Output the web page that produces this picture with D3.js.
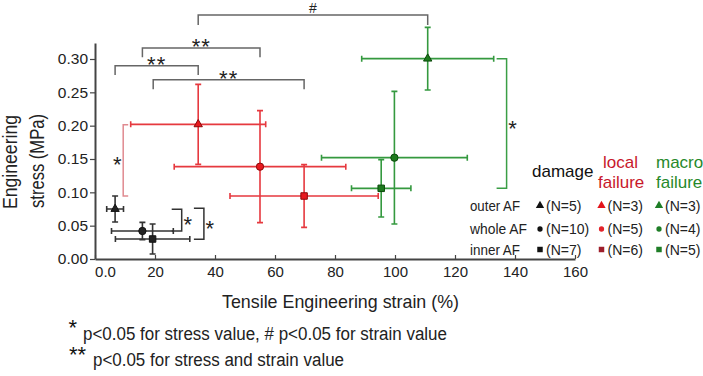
<!DOCTYPE html>
<html>
<head>
<meta charset="utf-8">
<script src="https://cdnjs.cloudflare.com/ajax/libs/d3/7.8.5/d3.min.js"></script>
<style>
  body { margin: 0; background: #fff; }
  text { font-family: "Liberation Sans", Arial, sans-serif; }
</style>
</head>
<body>
<div id="chart"></div>
<script>
// ---- data ----
var regions = ["outer AF", "whole AF", "inner AF"];
var shapes = [d3.symbolTriangle, d3.symbolCircle, d3.symbolSquare];

var damageStrain = [6.7, 15.8, 19.2];
var damageStrainSD = [2.8, 10.3, 12.4];
var damageStress = [0.075, 0.042, 0.030];
var damageStressSD = [0.0195, 0.013, 0.0225];
var damageN = [5, 10, 7];

var localStrain = [34.4, 55.0, 69.7];
var localStrainSD = [22.5, 28.6, 24.7];
var localStress = [0.202, 0.1385, 0.0945];
var localStressSD = [0.060, 0.084, 0.047];
var localN = [3, 5, 6];

var macroStrain = [110.9, 99.8, 95.4];
var macroStrainSD = [22.0, 24.3, 9.9];
var macroStress = [0.3005, 0.152, 0.106];
var macroStressSD = [0.047, 0.0995, 0.043];
var macroN = [3, 4, 5];

var xTicks = [0, 20, 40, 60, 80, 100, 120, 140, 160];
var yTicks = [0, 0.05, 0.10, 0.15, 0.20, 0.25, 0.30];

// significance brackets (data units): [x1, x2, top, legEnd, label]
var hBrackets = [
  [34.4, 110.9, 0.366, 0.351, "#"],
  [15.8, 55.0, 0.3165, 0.3025, "**"],
  [6.7, 34.4, 0.290, 0.276, "**"],
  [19.4, 69.7, 0.269, 0.2545, "**"]
];
// [x, y1, y2, tick direction, color]
var vBrackets = [
  [9.4, 0.2015, 0.0945, 1, "#e08a90"],
  [28.9, 0.0746, 0.042, -1, "#333"],
  [36.3, 0.076, 0.0296, -1, "#333"],
  [137.2, 0.3005, 0.106, -1, "#3a9e46"]
];

var series = [
  { name: "damage", strain: damageStrain, strainSD: damageStrainSD, stress: damageStress, stressSD: damageStressSD, n: damageN,
    bar: "#333", fill: "#222", stroke: "#111", legend: ["#111", "#111", "#111"] },
  { name: "local", strain: localStrain, strainSD: localStrainSD, stress: localStress, stressSD: localStressSD, n: localN,
    bar: "#e6393f", fill: "#e8191f", stroke: "#8b0a0a", legend: ["#e3141b", "#e3242b", "#9e1f2b"] },
  { name: "macro", strain: macroStrain, strainSD: macroStrainSD, stress: macroStress, stressSD: macroStressSD, n: macroN,
    bar: "#34993f", fill: "#1d7a1d", stroke: "#0b4a0b", legend: ["#1e7d26", "#1e7d26", "#1e7d26"] }
];

var margin = { top: 43, right: 128, bottom: 117, left: 95 };
var width = 703 - margin.left - margin.right,
    height = 376 - margin.top - margin.bottom;

var svg = d3.select("#chart").append("svg")
    .attr("width", 703)
    .attr("height", 376);

var g = svg.append("g")
    .attr("transform", "translate(" + margin.left + "," + margin.top + ")");

var x = d3.scaleLinear().domain([0, 160]).range([0, width]);
var y = d3.scaleLinear().domain([0, 0.324]).range([height, 0]);

// axes
var xAxis = g.append("g")
    .attr("transform", "translate(0," + height + ")")
    .call(d3.axisBottom(x).tickValues(xTicks)
        .tickFormat(function (d) { return d === 0 ? "0.0" : d; })
        .tickSizeInner(-4).tickSizeOuter(0).tickPadding(7));
xAxis.selectAll("text").attr("font-size", 15).attr("fill", "#222")
    .attr("dx", function (d) { return d === 0 ? 10 : 0; });

var yAxis = g.append("g")
    .call(d3.axisLeft(y).tickValues(yTicks).tickFormat(d3.format(".2f"))
        .tickSizeInner(5).tickSizeOuter(0).tickPadding(2));
yAxis.selectAll("text").attr("font-size", 15.5).attr("fill", "#222");

[xAxis, yAxis].forEach(function (a) {
  a.select(".domain").attr("stroke", "#444").attr("stroke-width", 2);
  a.selectAll(".tick line").attr("stroke", "#444").attr("stroke-width", 1.2);
  a.attr("font-family", null);
});

// axis titles
svg.append("text")
    .attr("x", 222).attr("y", 308)
    .attr("font-size", 18.5).attr("fill", "#222")
    .attr("textLength", 237).attr("lengthAdjust", "spacingAndGlyphs")
    .text("Tensile Engineering strain (%)");

svg.append("text")
    .attr("transform", "translate(17,162) rotate(-90)")
    .attr("text-anchor", "middle")
    .attr("font-size", 20).attr("fill", "#222")
    .attr("textLength", 94).attr("lengthAdjust", "spacingAndGlyphs")
    .text("Engineering");
svg.append("text")
    .attr("transform", "translate(44,161) rotate(-90)")
    .attr("text-anchor", "middle")
    .attr("font-size", 20).attr("fill", "#222")
    .attr("textLength", 94).attr("lengthAdjust", "spacingAndGlyphs")
    .text("stress (MPa)");

// significance brackets
var hb = g.selectAll(".hb").data(hBrackets).enter().append("g");
hb.append("path")
    .attr("fill", "none").attr("stroke", "#666").attr("stroke-width", 1.5)
    .attr("d", function (d) {
      return "M" + x(d[0]) + "," + y(d[3]) + "V" + y(d[2]) + "H" + x(d[1]) + "V" + y(d[3]);
    });
hb.append("text")
    .attr("x", function (d) { return (x(d[0]) + x(d[1])) / 2; })
    .attr("y", function (d) { return d[4] === "#" ? y(d[2]) - 2 : y(d[2]) + 6; })
    .attr("text-anchor", "middle")
    .attr("font-size", function (d) { return d[4] === "#" ? 14 : 22; })
    .attr("fill", "#222")
    .attr("letter-spacing", function (d) { return d[4] === "#" ? 0 : 1; })
    .text(function (d) { return d[4]; });

var vb = g.selectAll(".vb").data(vBrackets).enter().append("g");
vb.append("path")
    .attr("fill", "none").attr("stroke-width", 1.5)
    .attr("stroke", function (d) { return d[4]; })
    .attr("d", function (d) {
      var t = d[3] > 0 ? 5 : -10;
      return "M" + (x(d[0]) + t) + "," + y(d[1]) + "H" + x(d[0]) + "V" + y(d[2]) + "H" + (x(d[0]) + t);
    });
vb.append("text")
    .attr("x", function (d) { return x(d[0]) + (d[3] > 0 ? -6 : 6); })
    .attr("y", function (d) { return (y(d[1]) + y(d[2])) / 2 + 12; })
    .attr("text-anchor", "middle")
    .attr("font-size", 22).attr("fill", "#222")
    .text("*");

// error bars and markers
series.forEach(function (s) {
  var pts = regions.map(function (r, i) { return i; });
  var sg = g.append("g");
  pts.forEach(function (i) {
    var cx = x(s.strain[i]), cy = y(s.stress[i]);
    var x1 = x(s.strain[i] - s.strainSD[i]), x2 = x(s.strain[i] + s.strainSD[i]);
    var y1 = y(s.stress[i] + s.stressSD[i]), y2 = y(s.stress[i] - s.stressSD[i]);
    sg.append("path")
        .attr("fill", "none").attr("stroke", s.bar).attr("stroke-width", 1.6)
        .attr("d", "M" + x1 + "," + cy + "H" + x2 +
                   "M" + x1 + "," + (cy - 3) + "V" + (cy + 3) +
                   "M" + x2 + "," + (cy - 3) + "V" + (cy + 3) +
                   "M" + cx + "," + y1 + "V" + y2 +
                   "M" + (cx - 3) + "," + y1 + "H" + (cx + 3) +
                   "M" + (cx - 3) + "," + y2 + "H" + (cx + 3));
  });
  pts.forEach(function (i) {
    sg.append("path")
        .attr("transform", "translate(" + x(s.strain[i]) + "," + y(s.stress[i]) + ")")
        .attr("d", d3.symbol().type(shapes[i]).size(i === 0 ? 30 : 42)())
        .attr("fill", s.fill).attr("stroke", s.stroke).attr("stroke-width", 1);
  });
});

// legend
svg.append("text").attr("x", 532).attr("y", 176.5)
    .attr("font-size", 17).attr("fill", "#111").text("damage");
[["local", "#c8182b", 603], ["macro", "#26892a", 656]].forEach(function (h) {
  svg.append("text").attr("x", h[2]).attr("y", 168)
      .attr("font-size", 17).attr("fill", h[1]).text(h[0]);
  svg.append("text").attr("x", h[2] - (h[0] === "local" ? 5 : 0)).attr("y", 188)
      .attr("font-size", 17).attr("fill", h[1]).text("failure");
});

var rowY = [210.5, 234, 254.5];
var colX = [540, 601.5, 659];
regions.forEach(function (r, i) {
  svg.append("text").attr("x", 470).attr("y", rowY[i])
      .attr("font-size", 14.5).attr("fill", "#222")
      .attr("textLength", i === 1 ? 57 : 50).attr("lengthAdjust", "spacingAndGlyphs")
      .text(r);
  series.forEach(function (s, j) {
    svg.append("path")
        .attr("transform", "translate(" + colX[j] + "," + (rowY[i] - 5) + ")")
        .attr("d", d3.symbol().type(shapes[i]).size(i === 1 ? 22 : 30)())
        .attr("fill", s.legend[i]);
    svg.append("text").attr("x", colX[j] + 6).attr("y", rowY[i])
        .attr("font-size", 14).attr("fill", "#222")
        .text("(N=" + s.n[i] + ")");
  });
});

// footnotes
svg.append("text").attr("x", 72.8).attr("y", 335)
    .attr("text-anchor", "middle").attr("font-size", 22).attr("fill", "#111").text("*");
svg.append("text").attr("x", 83).attr("y", 340)
    .attr("font-size", 18).attr("fill", "#222")
    .attr("textLength", 364).attr("lengthAdjust", "spacingAndGlyphs")
    .text("p<0.05 for stress value, # p<0.05 for strain value");
svg.append("text").attr("x", 77.5).attr("y", 362)
    .attr("text-anchor", "middle").attr("font-size", 22).attr("fill", "#111").text("**");
svg.append("text").attr("x", 93).attr("y", 366)
    .attr("font-size", 18).attr("fill", "#222")
    .attr("textLength", 251).attr("lengthAdjust", "spacingAndGlyphs")
    .text("p<0.05 for stress and strain value");
</script>
</body>
</html>
